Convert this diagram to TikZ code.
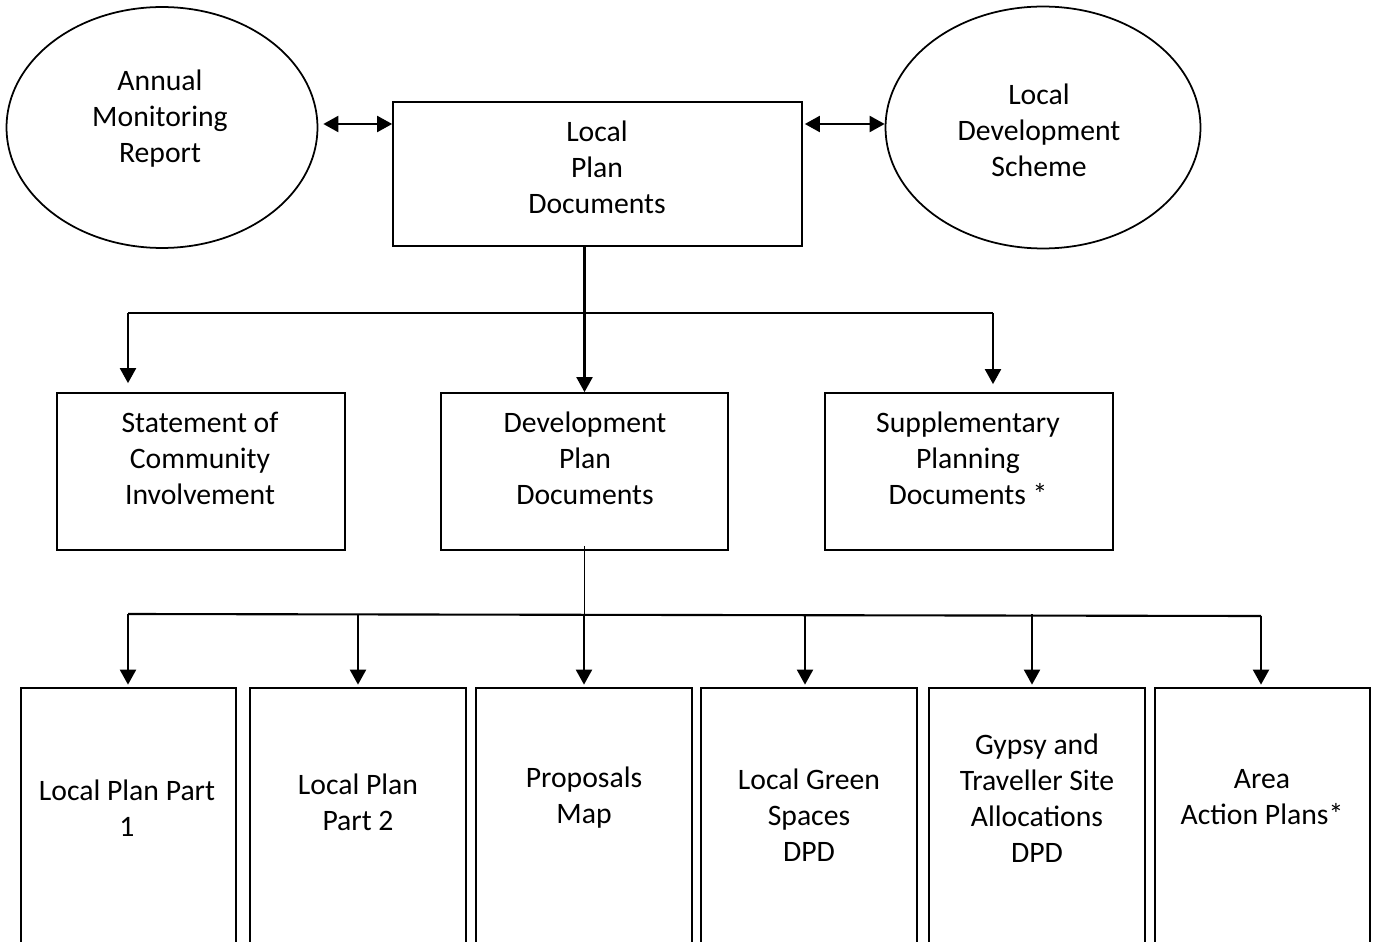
\documentclass[tikz,border=0pt]{standalone}
\usepackage{fontspec}
\setmainfont{Carlito}
\usetikzlibrary{shapes.geometric,arrows.meta}
\tikzset{
  box/.style={draw, line width=1pt, inner sep=0pt, fill=none},
  oval/.style={draw, ellipse, line width=1pt, inner sep=0pt},
  txt/.style={align=center, inner sep=0pt, font=\fontsize{16.9}{20.5}\selectfont},
  conn/.style={line width=1.2pt},
  arr/.style={line width=1.2pt, -{Triangle[length=0.3cm,width=0.32cm]}},
  dbl/.style={line width=1.2pt, {Triangle[length=0.3cm,width=0.32cm]}-{Triangle[length=0.3cm,width=0.32cm]}}
}
\begin{document}
\begin{tikzpicture}[x=0.02cm,y=-0.02cm]
\path[use as bounding box, clip] (0,0) rectangle (1375,942);
\fill[white] (0,0) rectangle (1375,942);
% top row
\node[oval, minimum width=6.22cm, minimum height=4.82cm] (aml) at (162,127.5) {};
\node[txt] (amlt) at (160,119) {Annual\\Monitoring\\Report};
\node[oval, minimum width=6.3cm, minimum height=4.84cm] (lde) at (1043,127.5) {};
\node[txt] (ldet) at (1039,130) {Local\\Development\\Scheme};
\node[box, minimum width=8.18cm, minimum height=2.88cm] (lpd) at (597.5,174) {};
\node[txt] (lpdt) at (597,167) {Local\\Plan\\Documents};
% middle row
\node[box, minimum width=5.76cm, minimum height=3.14cm] (sci) at (201,471.5) {};
\node[txt] (scit) at (200,458) {Statement of\\Community\\Involvement};
\node[box, minimum width=5.74cm, minimum height=3.14cm] (dpd) at (584.5,471.5) {};
\node[txt] (dpdt) at (585,458) {Development\\Plan\\Documents};
\node[box, minimum width=5.76cm, minimum height=3.14cm] (spd) at (969,471.5) {};
\node[txt] (spdt) at (968,458) {Supplementary\\Planning\\Documents *};
% bottom row
\node[box, minimum width=4.3cm, minimum height=5.44cm] (b1) at (128.5,824) {};
\node[txt] (b1t) at (127,808) {Local Plan Part\\1};
\node[box, minimum width=4.32cm, minimum height=5.44cm] (b2) at (358,824) {};
\node[txt] (b2t) at (358,802) {Local Plan\\Part 2};
\node[box, minimum width=4.32cm, minimum height=5.44cm] (b3) at (584,824) {};
\node[txt] (b3t) at (584,798) {Proposals\\Map};
\node[box, minimum width=4.32cm, minimum height=5.44cm] (b4) at (809,824) {};
\node[txt] (b4t) at (809,815) {Local Green\\Spaces\\DPD};
\node[box, minimum width=4.32cm, minimum height=5.44cm] (b5) at (1037,824) {};
\node[txt] (b5t) at (1037,798) {Gypsy and\\Traveller Site\\Allocations\\DPD};
\node[box, minimum width=4.3cm, minimum height=5.44cm] (b6) at (1262.5,824) {};
\node[txt] (b6t) at (1262,797) {Area\\Action Plans*};
% connectors top
\draw[dbl] ([xshift=0.1cm]aml.east |- 0,124) -- (lpd.west |- 0,124);
\draw[dbl] ([xshift=0.04cm]lpd.east |- 0,124) -- (lde.west |- 0,124);
\coordinate (j1) at (128,313);
\coordinate (j2) at (993,313);
\draw[conn] (j1) -- (j2);
\draw[arr] (lpd.south -| dpd.north) -- (dpd.north);
\draw[arr, shorten >=0.18cm] (j1) -- (j1 |- sci.north);
\draw[arr, shorten >=0.16cm] (j2) -- (j2 |- spd.north);
% connectors bottom
\coordinate (j3) at (128,614);
\coordinate (j4) at (1261,616);
\draw[conn] (j3) -- (j4);
\draw[line width=1pt] ([yshift=0.1cm]dpd.south) -- (dpd.south |- j3);
\draw[arr, shorten >=0.05cm] (j3) -- (j3 |- b1.north);
\draw[arr, shorten >=0.05cm] (b2.north |- j3) -- (b2.north);
\draw[arr, shorten >=0.05cm] (b3.north |- j3) -- (b3.north);
\draw[arr, shorten >=0.05cm] ([xshift=-0.08cm]b4.north |- j3) -- ([xshift=-0.08cm]b4.north);
\draw[arr, shorten >=0.05cm] ([xshift=-0.1cm]b5.north |- j3) -- ([xshift=-0.1cm]b5.north);
\draw[arr, shorten >=0.05cm] (j4) -- (j4 |- b6.north);
\end{tikzpicture}
\end{document}
